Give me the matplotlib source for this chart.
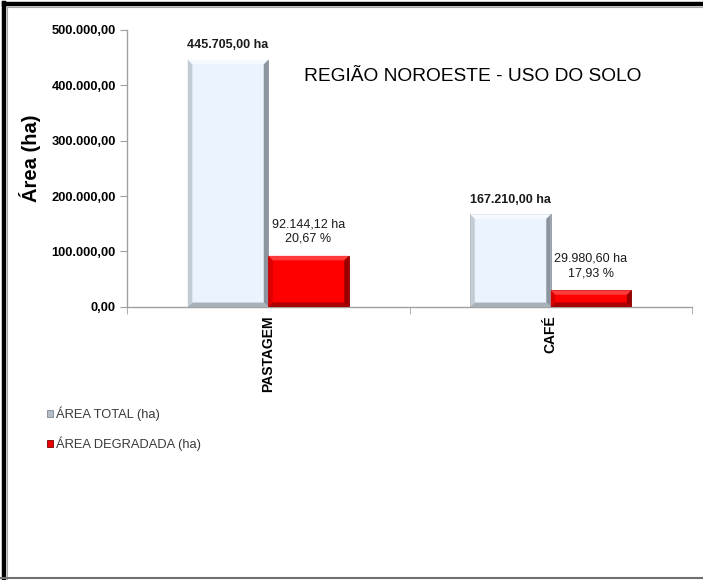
import numpy as np
import matplotlib
matplotlib.use('Agg')
import matplotlib.pyplot as plt
from matplotlib.patches import Polygon, Patch
from matplotlib.lines import Line2D
from matplotlib.ticker import FuncFormatter, FixedLocator

plt.rcParams['font.family'] = ['Liberation Sans', 'DejaVu Sans']

categories = ['PASTAGEM', 'CAFÉ']
area_total = [445705.00, 167210.00]
area_degradada = [92144.12, 29980.60]
pct_degradada = [20.67, 17.93]
series_names = ['ÁREA TOTAL (ha)', 'ÁREA DEGRADADA (ha)']


def br(v, dec=2):
    s = f'{v:,.{dec}f}'
    return s.replace(',', 'X').replace('.', ',').replace('X', '.')


def bevel(ax, bar, light, dark, top, bottom, bx, by):
    # four trapezoids around the bar face to fake the raised look
    x0, y0 = bar.get_x(), bar.get_y()
    x1, y1 = x0 + bar.get_width(), y0 + bar.get_height()
    by = min(by, bar.get_height() / 3)
    sides = [
        ([(x0, y0), (x0 + bx, y0 + by), (x0 + bx, y1 - by), (x0, y1)], light),
        ([(x1, y0), (x1 - bx, y0 + by), (x1 - bx, y1 - by), (x1, y1)], dark),
        ([(x0, y1), (x0 + bx, y1 - by), (x1 - bx, y1 - by), (x1, y1)], top),
        ([(x0, y0), (x0 + bx, y0 + by), (x1 - bx, y0 + by), (x1, y0)], bottom),
    ]
    for pts, c in sides:
        ax.add_patch(Polygon(pts, closed=True, facecolor=c, edgecolor='none', zorder=3))


fig = plt.figure(figsize=(7.03, 5.80), dpi=100)
ax = fig.add_axes([0.1807, 0.4707, 0.8037, 0.4784])

x = np.arange(len(categories))
w = 0.285
b1 = ax.bar(x - w / 2, area_total, w, color='#EAF3FE', edgecolor='#8A939C', linewidth=0.6,
            label=series_names[0], zorder=2)
b2 = ax.bar(x + w / 2, area_degradada, w, color='#FF0000', edgecolor='#7A0000', linewidth=0.6,
            label=series_names[1], zorder=2)

bx, by = 0.016, 8000
for bar in b1:
    bevel(ax, bar, '#C3CBD3', '#8C959E', '#F6FAFE', '#A8B0B8', bx, by)
for bar in b2:
    bevel(ax, bar, '#D80000', '#960000', '#FF3A3A', '#A80000', bx, by)

for i in range(len(categories)):
    ax.annotate(br(area_total[i]) + ' ha', (x[i] - w / 2, area_total[i]),
                xytext=(0, 6), textcoords='offset points', ha='center', va='bottom',
                fontsize=9, fontweight='bold', color='#1A1A1A')
    ax.annotate(br(area_degradada[i]) + ' ha\n' + br(pct_degradada[i]) + ' %',
                (x[i] + w / 2, area_degradada[i]),
                xytext=(0, 8), textcoords='offset points', ha='center', va='bottom',
                fontsize=9, color='#1A1A1A', linespacing=1.3)

ax.set_xlim(-0.5, 1.5)
ax.set_ylim(0, 500000)
ax.set_yticks(np.arange(0, 500001, 100000))
ax.yaxis.set_major_formatter(FuncFormatter(lambda v, p: br(v)))
ax.set_xticks(x)
ax.set_xticklabels(categories, rotation=90, fontsize=10, fontweight='bold')
ax.xaxis.set_minor_locator(FixedLocator([-0.5, 0.5, 1.5]))
ax.tick_params(axis='x', which='major', length=0, pad=6)
ax.tick_params(axis='x', which='minor', length=5, color='#A0A0A0', direction='out')
ax.tick_params(axis='y', length=5, color='#A0A0A0', labelsize=9.3, pad=3)
for lab in ax.get_yticklabels():
    lab.set_fontweight('bold')

for s in ['top', 'right']:
    ax.spines[s].set_visible(False)
for s in ['left', 'bottom']:
    ax.spines[s].set_color('#A0A0A0')
    ax.spines[s].set_linewidth(1.0)

ax.set_ylabel('Área (ha)', fontsize=14.5, fontweight='bold', va='center')
ax.yaxis.set_label_coords(-0.172, 0.537)

fig.text(0.672, 0.868, 'REGIÃO NOROESTE - USO DO SOLO', fontsize=13.8, ha='center', va='center')

legend_handles = [Patch(facecolor='#B4BEC9', edgecolor='#7D8791', linewidth=0.6),
                  Patch(facecolor='#E80000', edgecolor='#7A0000', linewidth=0.6)]
fig.legend(handles=legend_handles, labels=series_names, loc='upper left',
           bbox_to_anchor=(0.058, 0.31), frameon=False, fontsize=9.3,
           handlelength=0.45, handleheight=0.45, handletextpad=0.2, labelspacing=1.2,
           labelcolor='#3A3A3A', borderpad=0)

# outer frame: thick black on top and left, thin grey at bottom
fig.add_artist(Line2D([0.006, 1.0], [0.993, 0.993], color='black', lw=3.2))
fig.add_artist(Line2D([0.0057, 0.0057], [0.0, 0.995], color='black', lw=3.2))
fig.add_artist(Line2D([0.011, 1.0], [0.9875, 0.9875], color='#A8A8A8', lw=0.8))
fig.add_artist(Line2D([0.0105, 0.0105], [0.0, 0.988], color='#A8A8A8', lw=0.8))
fig.add_artist(Line2D([0.0, 1.0], [0.004, 0.004], color='#707070', lw=1.5))

fig.savefig('out.png', dpi=100)
